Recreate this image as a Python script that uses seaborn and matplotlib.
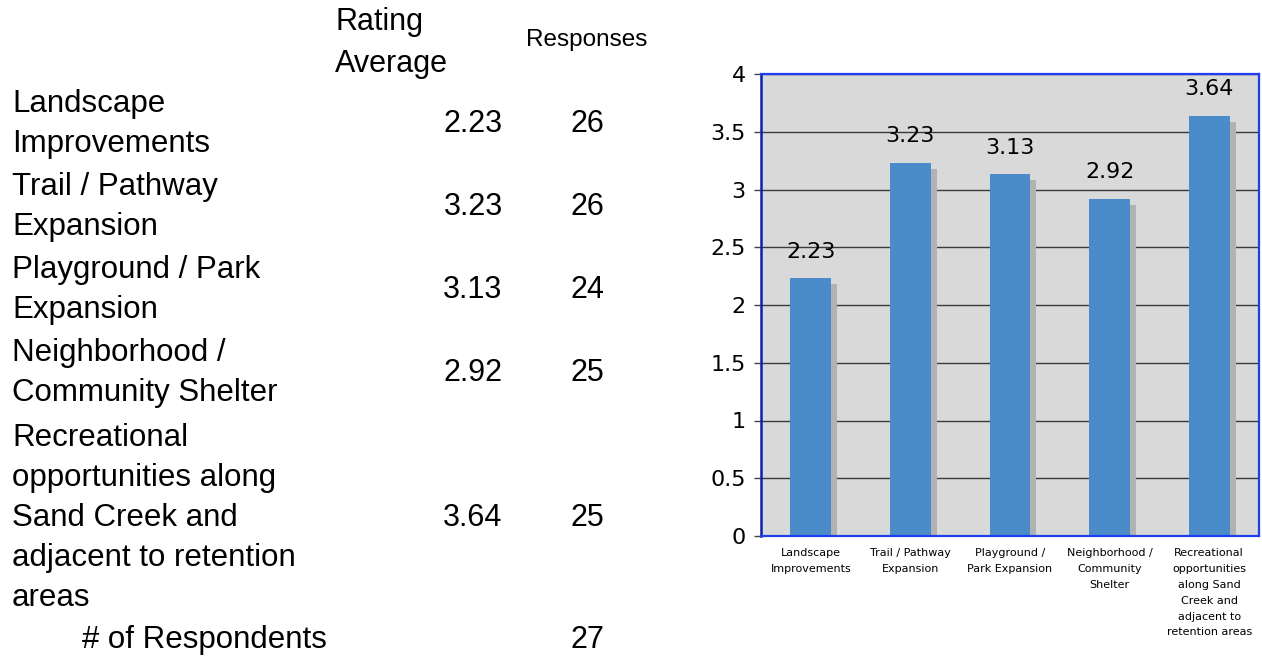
import matplotlib
matplotlib.use('Agg')
import matplotlib.pyplot as plt
import matplotlib.patheffects as pe
import seaborn as sns

# data
categories = ['Landscape Improvements', 'Trail / Pathway Expansion', 'Playground / Park Expansion',
              'Neighborhood / Community Shelter',
              'Recreational opportunities along Sand Creek and adjacent to retention areas']
table_labels = ['Landscape\nImprovements', 'Trail / Pathway\nExpansion', 'Playground / Park\nExpansion',
                'Neighborhood /\nCommunity Shelter',
                'Recreational\nopportunities along\nSand Creek and\nadjacent to retention\nareas']
tick_labels = ['Landscape\nImprovements', 'Trail / Pathway\nExpansion', 'Playground /\nPark Expansion',
               'Neighborhood /\nCommunity\nShelter',
               'Recreational\nopportunities\nalong Sand\nCreek and\nadjacent to\nretention areas']
ratings = [2.23, 3.23, 3.13, 2.92, 3.64]
responses = [26, 26, 24, 25, 25]
respondents = 27

sns.set_style('white')
plt.rcParams['font.family'] = ['DejaVu Sans']
plt.rcParams['text.color'] = 'black'
plt.rcParams['xtick.color'] = 'black'
plt.rcParams['ytick.color'] = 'black'

W, H = 1262, 658
fig = plt.figure(figsize=(W / 100, H / 100), dpi=100)

# ---- left table (figure pixel coords, measured from the top) ----
tfont = 'Liberation Sans'
def fy(y):
    return 1 - y / H

fig.text(335 / W, fy(43), 'Rating\nAverage', family=tfont, fontsize=22, ha='left', va='center',
         linespacing=1.5)
fig.text(587 / W, fy(40), 'Responses', family=tfont, fontsize=17.5, ha='center', va='center')

row_y = [124, 207, 290, 373, 518]
for lab, r, n, y in zip(table_labels, ratings, responses, row_y):
    fig.text(12 / W, fy(y), lab, family=tfont, fontsize=22.5, ha='left', va='center', linespacing=1.44)
    fig.text(473 / W, fy(y), f'{r:.2f}', family=tfont, fontsize=22, ha='center', va='center')
    fig.text(587 / W, fy(y), str(n), family=tfont, fontsize=22, ha='center', va='center')
fig.text(82 / W, fy(640), '# of Respondents', family=tfont, fontsize=22.5, ha='left', va='center')
fig.text(587 / W, fy(640), str(respondents), family=tfont, fontsize=22, ha='center', va='center')

# ---- bar chart ----
ax = fig.add_axes([761 / W, fy(536), (1259 - 761) / W, (536 - 74) / H])
ax.set_facecolor('#d9d9d9')
sns.barplot(x=categories, y=ratings, color='#4a8bca', saturation=1, width=0.41,
            edgecolor='none', linewidth=0, ax=ax)
for p in ax.patches:
    p.set_path_effects([pe.SimplePatchShadow(offset=(4.3, -4.3), shadow_rgbFace='#b2b2b2', alpha=1),
                        pe.Normal()])

ax.set_ylim(0, 4)
ax.set_xlim(-0.5, 4.5)
ax.set_yticks([0, 0.5, 1, 1.5, 2, 2.5, 3, 3.5, 4])
ax.set_yticklabels(['0', '0.5', '1', '1.5', '2', '2.5', '3', '3.5', '4'], fontsize=16)
ax.yaxis.grid(True, color='#3a3a3a', linewidth=1)
ax.set_axisbelow(True)

ax.set_xticks(range(5))
ax.set_xticklabels(tick_labels, fontsize=8, linespacing=1.72, va='top')
ax.set_xticks([-0.5, 0.5, 1.5, 2.5, 3.5, 4.5], minor=True)
ax.tick_params(axis='x', which='major', length=0, pad=9)
ax.tick_params(axis='x', which='minor', length=5, color='#444444', width=1)
ax.tick_params(axis='y', length=5, color='#444444', width=1, left=True, pad=6)

for v, p in zip(ratings, ax.patches):
    ax.annotate(f'{v:.2f}', (p.get_x() + p.get_width() / 2, v), xytext=(0, 15),
                textcoords='offset points', ha='center', va='baseline', fontsize=16)

for s in ['top', 'right', 'bottom']:
    ax.spines[s].set_color('#1e3ff0')
    ax.spines[s].set_linewidth(1.6)
ax.spines['left'].set_color('#0a1fb0')
ax.spines['left'].set_linewidth(1.8)
ax.set_xlabel('')
ax.set_ylabel('')

fig.savefig('out.png', dpi=100)
